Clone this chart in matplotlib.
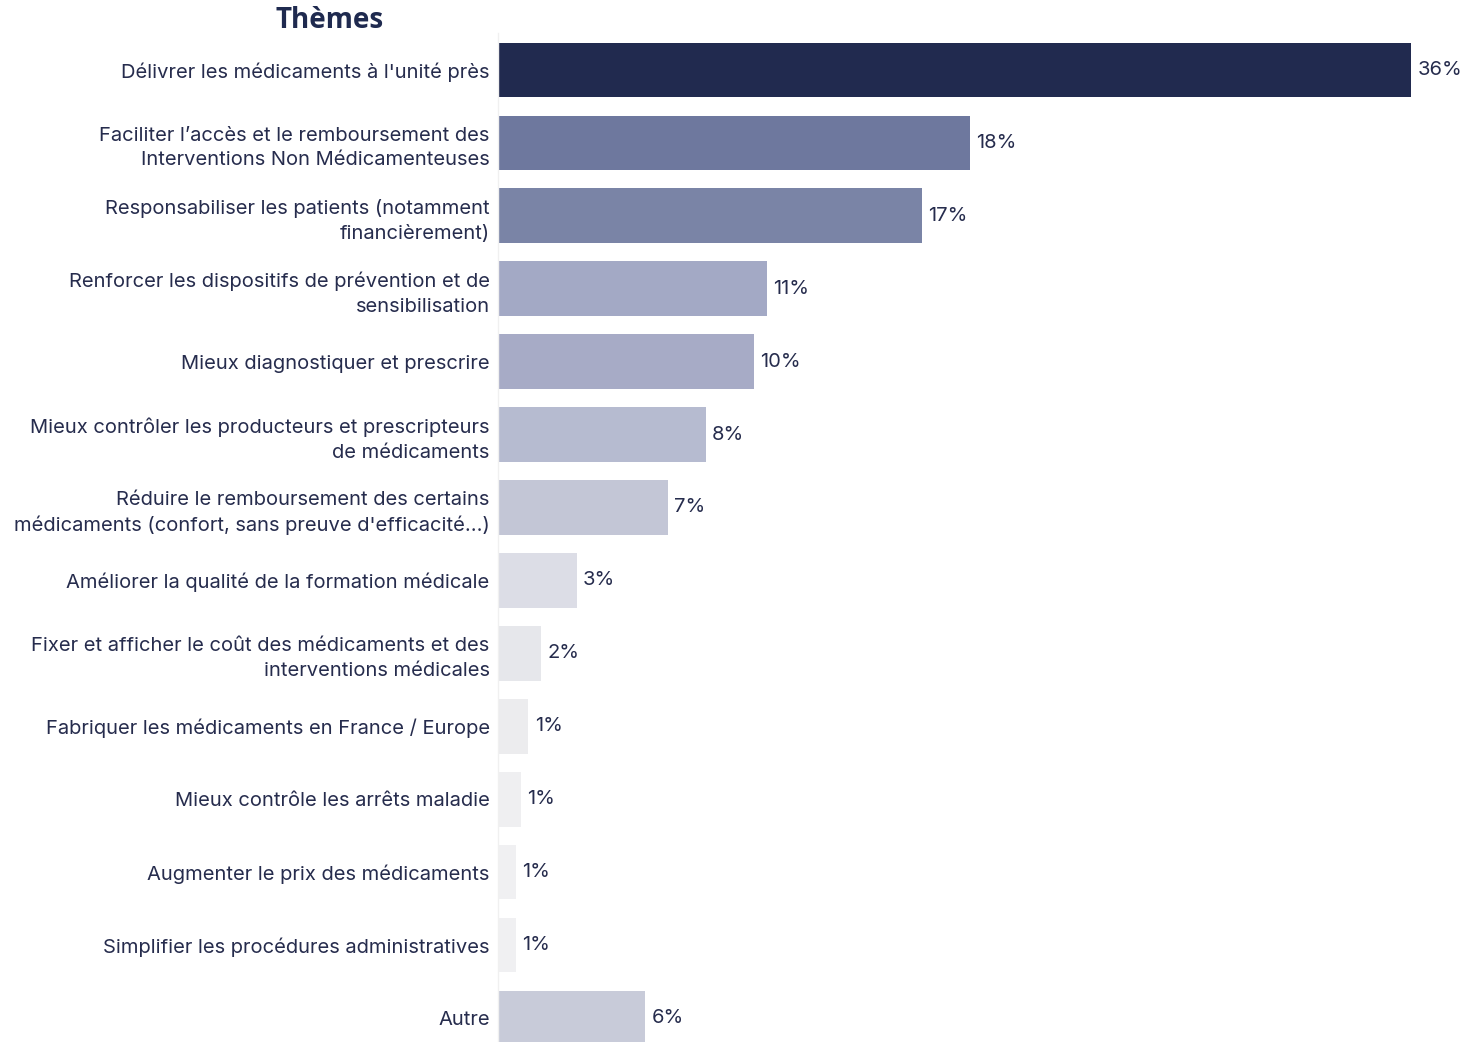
import matplotlib
matplotlib.use("Agg")
import matplotlib.pyplot as plt

categories = [
    "Délivrer les médicaments à l'unité près",
    "Faciliter l’accès et le remboursement des\nInterventions Non Médicamenteuses",
    "Responsabiliser les patients (notamment\nfinancièrement)",
    "Renforcer les dispositifs de prévention et de\nsensibilisation",
    "Mieux diagnostiquer et prescrire",
    "Mieux contrôler les producteurs et prescripteurs\nde médicaments",
    "Réduire le remboursement des certains\nmédicaments (confort, sans preuve d'efficacité...)",
    "Améliorer la qualité de la formation médicale",
    "Fixer et afficher le coût des médicaments et des\ninterventions médicales",
    "Fabriquer les médicaments en France / Europe",
    "Mieux contrôle les arrêts maladie",
    "Augmenter le prix des médicaments",
    "Simplifier les procédures administratives",
    "Autre",
]
values = [36.0, 18.6, 16.7, 10.6, 10.1, 8.2, 6.7, 3.1, 1.7, 1.2, 0.9, 0.7, 0.7, 5.8]
value_labels = ["36%", "18%", "17%", "11%", "10%", "8%", "7%", "3%", "2%", "1%", "1%", "1%", "1%", "6%"]
colors = ["#212a4f", "#6e789e", "#7a84a6", "#a3a9c5", "#a7abc6", "#b6bbd0", "#c3c6d6",
          "#dcdde6", "#e6e7eb", "#ececee", "#efeff1", "#f0f0f2", "#f0f0f2", "#c8cbd9"]

text_color = "#262c4d"
W, H = 1463, 1042
fig = plt.figure(figsize=(W / 100, H / 100), dpi=100)
left = 498 / W
ax = fig.add_axes([left, 0.0, 1 - left, 1 - 33.5 / H])

ys = list(range(len(categories)))
ax.barh(ys, values, height=0.75, color=colors)
ax.set_ylim(13.33, -0.5)
ax.set_xlim(0, 38.05)

for y, v, lab in zip(ys, values, value_labels):
    ax.annotate(lab, (v, y), xytext=(4.5, 0), textcoords="offset points",
                va="center", ha="left", fontsize=14.5, family="Inter", color=text_color)

ax.set_yticks(ys)
ax.set_yticklabels(categories, fontsize=14.5, family="Inter", color=text_color, linespacing=1.45)
ax.tick_params(axis="y", length=0, pad=6)
ax.set_xticks([])
for s in ["top", "right", "bottom"]:
    ax.spines[s].set_visible(False)
ax.spines["left"].set_color("#f0f0f0")
ax.spines["left"].set_linewidth(1)

fig.text(330 / W, 1 - 21 / H, "Thèmes", ha="center", va="center", fontsize=20,
         fontweight="bold", family="Open Sans", color="#1f2a4f")

fig.savefig("out.png", dpi=100)
